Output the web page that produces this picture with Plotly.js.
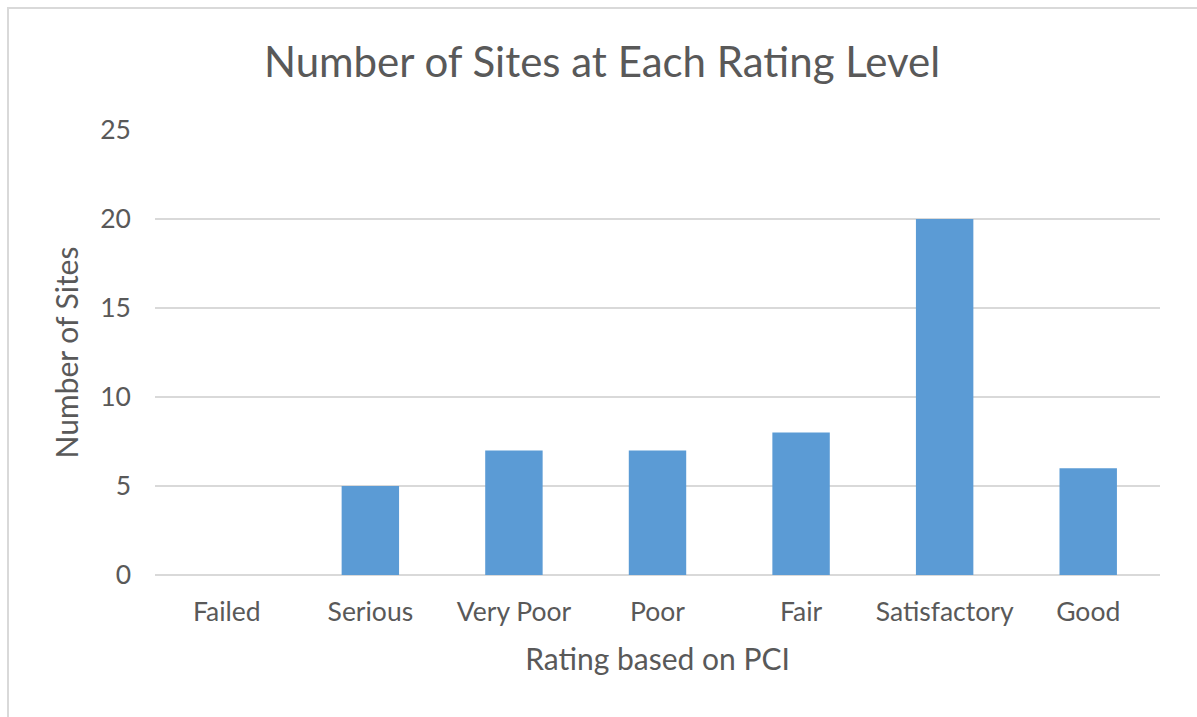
<!DOCTYPE html>
<html>
<head>
<meta charset="utf-8">
<script src="https://cdn.plot.ly/plotly-3.0.1.min.js"></script>
<style>
html,body{margin:0;padding:0;background:#fff;}
#frame{position:absolute;left:7px;top:7px;width:1200px;height:720px;border-left:2px solid #d9d9d9;border-top:2px solid #d9d9d9;box-sizing:border-box;}
#chart{position:absolute;left:0;top:0;width:1197px;height:717px;}
</style>
</head>
<body>
<div id="frame"></div>
<div id="chart"></div>
<script>
const categories = ["Failed", "Serious", "Very Poor", "Poor", "Fair", "Satisfactory", "Good"];
const sites = [0, 5, 7, 7, 8, 20, 6];
const yTicks = [0, 5, 10, 15, 20, 25];

const font = "Lato, 'Open Sans', sans-serif";
const textColor = "#595959";

Plotly.newPlot("chart", [{
  type: "bar",
  x: categories,
  y: sites,
  marker: {color: "#5b9bd5"},
  hoverinfo: "x+y"
}], {
  width: 1197,
  height: 717,
  paper_bgcolor: "rgba(0,0,0,0)",
  plot_bgcolor: "rgba(0,0,0,0)",
  margin: {l: 155, r: 37, t: 130, b: 142},
  bargap: 0.6,
  showlegend: false,
  title: {
    text: "Number of Sites at Each Rating Level",
    font: {family: font, size: 42, color: textColor},
    x: 0.503, xanchor: "center",
    y: 0.913, yanchor: "middle"
  },
  xaxis: {
    type: "category",
    tickfont: {family: font, size: 26.5, color: textColor},
    ticklabelstandoff: 18,
    showgrid: false,
    showline: false,
    zeroline: false,
    ticks: "",
    title: {text: "Rating based on PCI", font: {family: font, size: 30, color: textColor}, standoff: 23}
  },
  yaxis: {
    range: [0, 25],
    tickvals: yTicks,
    tickfont: {family: font, size: 26.5, color: textColor},
    ticklabelstandoff: 23,
    gridcolor: "#d9d9d9",
    gridwidth: 1.5,
    zeroline: true,
    zerolinecolor: "#d9d9d9",
    zerolinewidth: 1.5,
    showline: false,
    ticks: "",
    title: {text: "Number of Sites", font: {family: font, size: 30, color: textColor}, standoff: 12}
  }
}, {displayModeBar: false, staticPlot: false});
</script>
</body>
</html>
